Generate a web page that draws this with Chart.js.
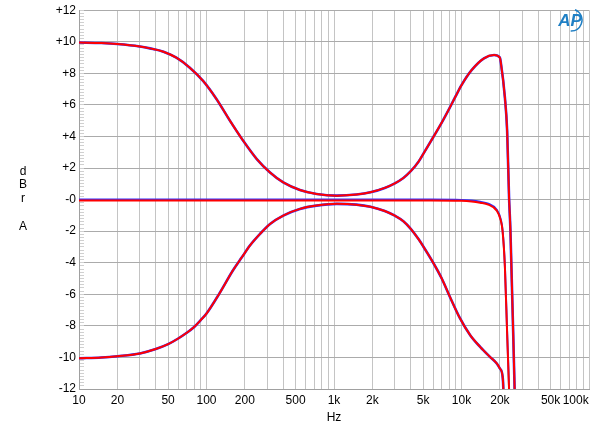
<!DOCTYPE html>
<html>
<head>
<meta charset="utf-8">
<script src="https://cdn.jsdelivr.net/npm/chart.js@4.4.1/dist/chart.umd.min.js"></script>
<style>
  html, body { margin: 0; padding: 0; background: #fff; }
  #wrap { width: 600px; height: 431px; }
</style>
</head>
<body>
<div id="wrap"><canvas id="toneChart" width="600" height="431"></canvas></div>
<script>
// tone control response, max boost / flat / max cut (Hz, dBr)
const boostFreq = [10, 15, 20, 30, 36, 46, 58, 74, 94, 120, 153, 194, 248, 315, 400, 540, 730, 1050, 1500, 1930, 2500, 3000, 3500, 4000, 4600, 5000, 6000, 7000, 8000, 9000, 10000, 12000, 15000, 18000, 20000, 20300, 21900, 22800, 23600, 24200, 26100, 26300];
const boostDb   = [9.95, 9.92, 9.86, 9.7, 9.58, 9.37, 8.99, 8.36, 7.52, 6.36, 4.99, 3.73, 2.57, 1.72, 1.09, 0.61, 0.36, 0.25, 0.32, 0.46, 0.74, 1.03, 1.37, 1.8, 2.4, 2.88, 3.95, 4.88, 5.75, 6.55, 7.25, 8.2, 8.95, 9.16, 9.0, 8.74, 6.46, 4.36, 0.15, -1.96, -12, -13];

const flatFreq  = [10, 100, 1000, 5000, 10000, 12000, 14000, 16200, 18900, 20300, 21000, 21900, 22800, 23600, 23800];
const flatDbR   = [-0.06, -0.05, -0.05, -0.06, -0.08, -0.12, -0.2, -0.32, -0.7, -1.3, -2.0, -4.3, -8.5, -12, -13];
const flatDbL   = [0.0, 0.01, 0.01, 0.0, -0.02, -0.06, -0.14, -0.26, -0.64, -1.24, -1.94, -4.2, -8.4, -11.9, -13];

const cutFreq = [10, 15, 20, 30, 40, 50, 60, 70, 80, 90, 100, 126, 161, 190, 219, 263, 315, 400, 540, 730, 1050, 1500, 1930, 2500, 3000, 3500, 4000, 4600, 5000, 6000, 7000, 8100, 9700, 11700, 14000, 16700, 18900, 20000, 21000, 21300, 21400];
const cutDb   = [-10.05, -10.0, -9.92, -9.75, -9.47, -9.16, -8.8, -8.44, -8.07, -7.64, -7.22, -5.96, -4.49, -3.64, -2.91, -2.17, -1.54, -1.01, -0.59, -0.38, -0.27, -0.32, -0.45, -0.72, -1.02, -1.37, -1.85, -2.5, -2.95, -4.0, -5.0, -6.15, -7.5, -8.59, -9.33, -9.96, -10.38, -10.7, -11.2, -12.07, -13];

const xTickValues = [10, 20, 50, 100, 200, 500, 1000, 2000, 5000, 10000, 20000, 50000, 100000];
const xTickLabels = ['10', '20', '50', '100', '200', '500', '1k', '2k', '5k', '10k', '20k', '50k', '100k'];
const yAxisLetters = ['d', 'B', 'r', '', 'A'];

function pts(xs, ys) {
  return xs.map((x, i) => ({ x: x, y: ys[i] }));
}

// vertical grid: 1..9 per decade
const gridFreqs = [];
for (let dec = 10; dec < 100000; dec *= 10) {
  for (let m = 1; m <= 9; m++) gridFreqs.push(dec * m);
}
gridFreqs.push(100000);

const RED = '#ff0000';
const BLUE = '#3030ff';

function line(data, color, width, order) {
  return {
    data: data,
    borderColor: color,
    borderWidth: width,
    pointRadius: 0,
    fill: false,
    cubicInterpolationMode: 'monotone',
    order: order
  };
}

const sideText = {
  id: 'sideText',
  afterDraw(chart) {
    const ctx = chart.ctx;
    ctx.save();
    ctx.fillStyle = '#000';
    ctx.font = "12px 'Liberation Sans', Arial, sans-serif";
    ctx.textAlign = 'center';
    ctx.textBaseline = 'middle';
    const ys = [172, 185, 199, 213, 227];
    yAxisLetters.forEach((ch, i) => { if (ch) ctx.fillText(ch, 23, ys[i]); });
    // AP badge
    ctx.fillStyle = '#1f7fc4';
    ctx.font = "italic bold 17px 'Liberation Sans', Arial, sans-serif";
    ctx.fillText('AP', 570, 21);
    ctx.strokeStyle = '#1f7fc4';
    ctx.lineWidth = 1.5;
    ctx.beginPath();
    ctx.arc(571, 20, 11, -1.2, 1.6);
    ctx.stroke();
    ctx.restore();
  }
};

new Chart(document.getElementById('toneChart').getContext('2d'), {
  type: 'line',
  data: {
    datasets: [
      line(pts(boostFreq, boostDb), RED, 2, 0),
      line(pts(flatFreq, flatDbR), RED, 2, 0),
      line(pts(cutFreq, cutDb), RED, 2, 0),
      line(pts(boostFreq, boostDb), BLUE, 2.6, 1),
      line(pts(flatFreq, flatDbL), BLUE, 2, 1),
      line(pts(cutFreq, cutDb), BLUE, 2.6, 1)
    ]
  },
  options: {
    responsive: false,
    animation: false,
    events: [],
    font: { family: "'Liberation Sans', Arial, sans-serif", size: 12 },
    layout: { padding: { top: 9, right: 11, bottom: 6, left: 0 } },
    plugins: { legend: { display: false }, tooltip: { enabled: false } },
    scales: {
      x: {
        type: 'logarithmic',
        min: 10,
        max: 100000,
        afterBuildTicks(scale) {
          scale.ticks = gridFreqs.map(v => ({ value: v }));
        },
        afterFit(scale) {
          scale.height = 36;
          scale.paddingLeft = 0;
          scale.paddingRight = 0;
        },
        ticks: {
          autoSkip: false,
          maxRotation: 0,
          minRotation: 0,
          padding: 4,
          color: '#000',
          font: { size: 12 },
          callback(value) {
            const i = xTickValues.indexOf(value);
            if (i < 0) return '';
            // last label sits inside the frame
            return i === xTickValues.length - 1 ? xTickLabels[i] + '        ' : xTickLabels[i];
          }
        },
        grid: { color: '#c4c4c4', lineWidth: 1, drawTicks: false },
        border: { color: '#a0a0a0' },
        title: { display: true, text: 'Hz', color: '#000', font: { size: 12 }, padding: 0 }
      },
      y: {
        type: 'linear',
        min: -12,
        max: 12,
        weight: 1,
        afterFit(scale) { scale.width = 79; },
        ticks: {
          stepSize: 2,
          padding: 3,
          color: '#000',
          font: { size: 12 },
          callback(value) {
            if (value > 0) return '+' + value;
            if (value === 0) return '-0';
            return String(value);
          }
        },
        grid: { color: '#ababab', lineWidth: 1, drawTicks: false },
        border: { color: '#a0a0a0' }
      },
      yMinor: {
        type: 'linear',
        position: 'left',
        min: -12,
        max: 12,
        weight: 0,
        afterFit(scale) { scale.width = 0; },
        ticks: { display: false, stepSize: 0.2, autoSkip: false },
        grid: { drawOnChartArea: false, drawTicks: true, tickLength: -5, color: '#d0d0d0' },
        border: { display: false }
      }
    }
  },
  plugins: [sideText]
});
</script>
</body>
</html>
